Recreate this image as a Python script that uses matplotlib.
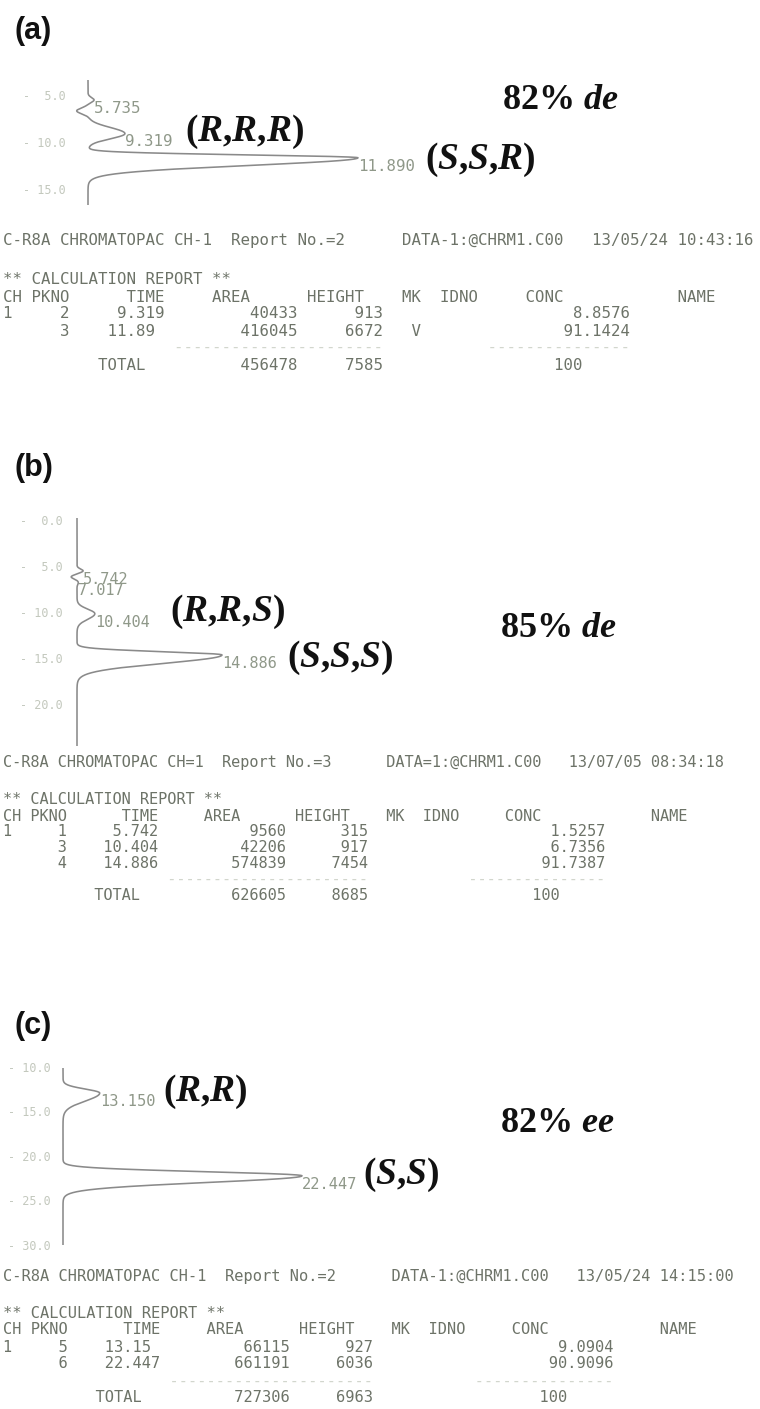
import numpy as np
import matplotlib
matplotlib.use("Agg")
import matplotlib.pyplot as plt

W, H, DPI = 760, 1409, 100

plt.rcParams.update({
    "mathtext.fontset": "custom",
    "mathtext.rm": "Liberation Serif:bold",
    "mathtext.it": "Liberation Serif:bold:italic",
    "mathtext.bf": "Liberation Serif:bold",
})

MONO = "DejaVu Sans Mono"
INK = "#111111"
PRINT = "#6d7368"
PRINT_LIGHT = "#d2d6cd"
PEAK_TXT = "#8f9889"
TICK_TXT = "#c3c8bd"
TRACE = "#8a8a8a"

# ---------------- (a) diastereomer run, 13/05/24 10:43:16 ----------------
A_HEADER = ["C-R8A CHROMATOPAC CH-1", "Report No.=2", "DATA-1:@CHRM1.C00", "13/05/24", "10:43:16"]
A_PKNO = [2, 3]
A_TIME = ["9.319", "11.89"]
A_AREA = [40433, 416045]
A_HEIGHT = [913, 6672]
A_MK = ["", "V"]
A_CONC = ["8.8576", "91.1424"]
A_TOTAL = [456478, 7585, 100]
A_PEAK_T = [5.735, 9.319, 11.890]
A_PEAK_H = [150, 913, 6672]
A_PEAK_SL = [0.25, 0.65, 0.30]
A_PEAK_SR = [0.25, 0.55, 0.80]
A_DIP_T = [6.9]
A_DIP_H = [-280]
A_DIP_S = [0.3]
A_TICKS = [5.0, 10.0, 15.0]
A_NAMES = ["(R,R,R)", "(S,S,R)"]
A_SELECT = "82% de"

# ---------------- (b) diastereomer run, 13/07/05 08:34:18 ----------------
B_HEADER = ["C-R8A CHROMATOPAC CH=1", "Report No.=3", "DATA=1:@CHRM1.C00", "13/07/05", "08:34:18"]
B_PKNO = [1, 3, 4]
B_TIME = ["5.742", "10.404", "14.886"]
B_AREA = [9560, 42206, 574839]
B_HEIGHT = [315, 917, 7454]
B_MK = ["", "", ""]
B_CONC = ["1.5257", "6.7356", "91.7387"]
B_TOTAL = [626605, 8685, 100]
B_PEAK_T = [5.742, 7.017, 10.404, 14.886]
B_PEAK_H = [315, 70, 917, 7454]
B_PEAK_SL = [0.20, 0.20, 0.50, 0.35]
B_PEAK_SR = [0.20, 0.20, 0.60, 0.90]
B_DIP_T = [6.4]
B_DIP_H = [-300]
B_DIP_S = [0.2]
B_TICKS = [0.0, 5.0, 10.0, 15.0, 20.0]
B_NAMES = ["(R,R,S)", "(S,S,S)"]
B_SELECT = "85% de"

# ---------------- (c) enantiomer run, 13/05/24 14:15:00 ----------------
C_HEADER = ["C-R8A CHROMATOPAC CH-1", "Report No.=2", "DATA-1:@CHRM1.C00", "13/05/24", "14:15:00"]
C_PKNO = [5, 6]
C_TIME = ["13.15", "22.447"]
C_AREA = [66115, 661191]
C_HEIGHT = [927, 6036]
C_MK = ["", ""]
C_CONC = ["9.0904", "90.9096"]
C_TOTAL = [727306, 6963, 100]
C_PEAK_T = [13.150, 22.447]
C_PEAK_H = [927, 6036]
C_PEAK_SL = [0.45, 0.45]
C_PEAK_SR = [0.90, 0.75]
C_DIP_T = []
C_DIP_H = []
C_DIP_S = []
C_TICKS = [10.0, 15.0, 20.0, 25.0, 30.0]
C_NAMES = ["(R,R)", "(S,S)"]
C_SELECT = "82% ee"


fig = plt.figure(figsize=(W / DPI, H / DPI), dpi=DPI, facecolor="white")


def ftext(x, y, s, **kw):
    """Text placed by pixel position from the top-left corner."""
    return fig.text(x / W, 1 - y / H, s, **kw)


def mathify(s):
    # letters come out bold italic, digits/punctuation bold upright
    return "$" + s.replace("%", r"\%").replace(" ", r"\ ").replace(",", "{,}") + "$"


def signal(t, pk_t, pk_h, sl, sr, dip_t, dip_h, dip_s):
    y = np.zeros_like(t)
    for t0, h, a, b in zip(pk_t, pk_h, sl, sr):
        s = np.where(t < t0, a, b)
        y += h * np.exp(-0.5 * ((t - t0) / s) ** 2)
    for t0, h, s in zip(dip_t, dip_h, dip_s):
        y += h * np.exp(-0.5 * ((t - t0) / s) ** 2)
    return y


def chromatogram(box, base_px, per_px, y_ref, t_ref, px_per_min,
                 pk_t, pk_h, sl, sr, dip_t, dip_h, dip_s, ticks, label_pt):
    left, right, top, bottom = box
    ax = fig.add_axes([left / W, 1 - bottom / H, (right - left) / W, (bottom - top) / H])
    t_top = t_ref + (top - y_ref) / px_per_min
    t_bot = t_ref + (bottom - y_ref) / px_per_min
    ax.set_xlim((left - base_px) * per_px, (right - base_px) * per_px)
    ax.set_ylim(t_bot, t_top)
    ax.axis("off")

    t = np.linspace(t_top, t_bot, 4000)
    ax.plot(signal(t, pk_t, pk_h, sl, sr, dip_t, dip_h, dip_s), t,
            color=TRACE, lw=1.15, solid_joinstyle="round")

    # printer time marks down the left edge
    for v in ticks:
        if t_top - 0.5 <= v <= t_bot:
            ax.annotate(f"-{v:>5.1f}", xy=(0, v), xycoords=ax.get_yaxis_transform(),
                        xytext=(-3, -2.5), textcoords="offset points",
                        ha="right", va="center", family=MONO, fontsize=8.5,
                        color=TICK_TXT, annotation_clip=False)
    # retention time printed next to each apex
    for t0, h in zip(pk_t, pk_h):
        ax.annotate(f"{t0:.3f}", xy=(h, t0), xytext=(0, -6), textcoords="offset points",
                    ha="left", va="center", family=MONO, fontsize=label_pt,
                    color=PEAK_TXT, annotation_clip=False)
    return ax


def report(x0, y_head, y_calc, step, pitch, header, pkno, time, area, height, mk, conc, total):
    size = pitch / 0.602 * 72 / DPI

    def line(fields):
        buf = [" "] * 82
        for col, s in fields:
            buf[col:col + len(s)] = list(s)
        return "".join(buf).rstrip()

    def rcol(right, s):
        s = str(s)
        return (right - len(s) + 1, s)

    kw = dict(family=MONO, fontsize=size, color=PRINT, ha="left", va="center")
    head = f"{header[0]}  {header[1]}      {header[2]}   {header[3]} {header[4]}"
    ftext(x0, y_head, head, **kw)
    ftext(x0, y_calc, "** CALCULATION REPORT **", **kw)
    y = y_calc + step
    ftext(x0, y, line([(0, "CH PKNO"), (13, "TIME"), (22, "AREA"), (32, "HEIGHT"),
                       (42, "MK"), (46, "IDNO"), (55, "CONC"), (71, "NAME")]), **kw)
    for i, (pk, tm, ar, hg, m, cc) in enumerate(zip(pkno, time, area, height, mk, conc)):
        y += step
        fields = [(0, "1")] if i == 0 else []
        fields += [rcol(6, pk), (13 - tm.index("."), tm), rcol(30, ar), rcol(39, hg),
                   (43, m), rcol(65, cc)]
        ftext(x0, y, line(fields), **kw)
    y += step
    ftext(x0, y, line([(18, "-" * 22), (51, "-" * 15)]), **dict(kw, color=PRINT_LIGHT))
    y += step
    ftext(x0, y, line([(10, "TOTAL"), rcol(30, total[0]), rcol(39, total[1]),
                       rcol(60, total[2])]), **kw)


def names(tag, tag_y, name_pos, sel_pos, name_txt, sel_txt):
    ftext(15, tag_y, tag, family="Liberation Sans", weight="bold", fontsize=22,
          color=INK, ha="left", va="center")
    for (x, y), s in zip(name_pos, name_txt):
        ftext(x, y, mathify(s), fontsize=27, color=INK, ha="left", va="center")
    ftext(sel_pos[0], sel_pos[1], mathify(sel_txt), fontsize=26, color=INK,
          ha="left", va="center")


# (a)
chromatogram((70, 380, 80, 205), 88, 6672 / 270, 140, 10.0, 9.4,
             A_PEAK_T, A_PEAK_H, A_PEAK_SL, A_PEAK_SR, A_DIP_T, A_DIP_H, A_DIP_S,
             A_TICKS, 11.3)
names("(a)", 31, [(185, 132), (425, 160)], (502, 99), A_NAMES, A_SELECT)
report(3, 240, 280, 17, 9.47, A_HEADER, A_PKNO, A_TIME, A_AREA, A_HEIGHT, A_MK, A_CONC, A_TOTAL)

# (b)
chromatogram((67, 380, 518, 746), 77, 7454 / 145, 518, 0.0, 9.2,
             B_PEAK_T, B_PEAK_H, B_PEAK_SL, B_PEAK_SR, B_DIP_T, B_DIP_H, B_DIP_S,
             B_TICKS, 11.0)
names("(b)", 468, [(170, 612), (287, 658)], (500, 627), B_NAMES, B_SELECT)
report(3, 763, 800, 16, 9.2, B_HEADER, B_PKNO, B_TIME, B_AREA, B_HEIGHT, B_MK, B_CONC, B_TOTAL)

# (c)
chromatogram((55, 380, 1068, 1245), 63, 6036 / 239, 1065, 10.0, 8.9,
             C_PEAK_T, C_PEAK_H, C_PEAK_SL, C_PEAK_SR, C_DIP_T, C_DIP_H, C_DIP_S,
             C_TICKS, 11.1)
names("(c)", 1026, [(163, 1092), (363, 1175)], (500, 1122), C_NAMES, C_SELECT)
report(3, 1277, 1313, 17, 9.3, C_HEADER, C_PKNO, C_TIME, C_AREA, C_HEIGHT, C_MK, C_CONC, C_TOTAL)

fig.savefig("out.png", dpi=DPI, facecolor="white")
